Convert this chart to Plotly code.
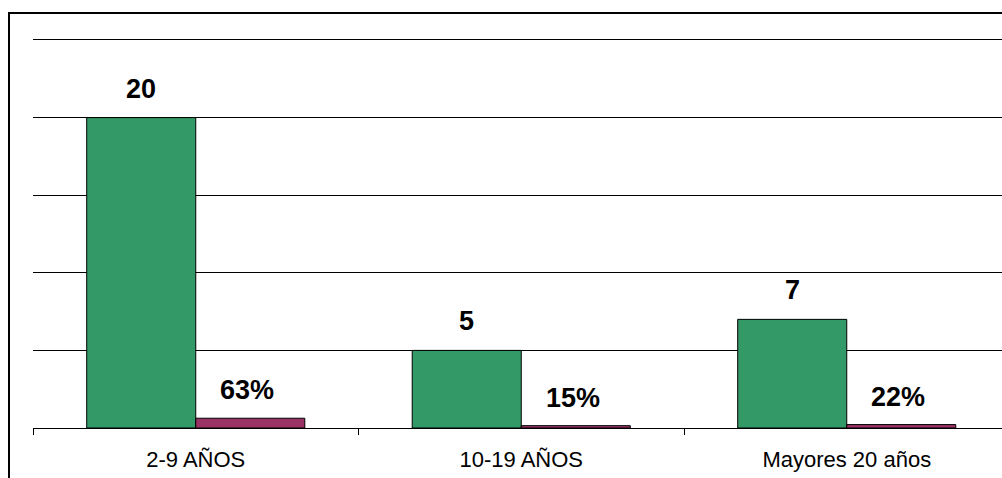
import plotly.graph_objects as go

# Age groups and values
categories = ["2-9 AÑOS", "10-19 AÑOS", "Mayores 20 años"]
counts = [20, 5, 7]
shares = [0.63, 0.15, 0.22]

GREEN = "#339966"
PLUM = "#993366"
FONT = "Liberation Sans, Arial, sans-serif"

W, H = 1002, 478
ML, MR, MT, MB = 33, 0, 40, 50
plot_w = W - ML - MR
plot_h = H - MT - MB
unit_px = 325.5  # width of one category band in pixels
Y_MAX = 25

fig = go.Figure()
fig.add_trace(go.Bar(x=categories, y=counts, marker=dict(color=GREEN, line=dict(color="black", width=1)),
                     showlegend=False, hoverinfo="skip"))
fig.add_trace(go.Bar(x=categories, y=shares, marker=dict(color=PLUM, line=dict(color="black", width=1)),
                     showlegend=False, hoverinfo="skip"))

bar_px = unit_px * 0.335
label_font = dict(family=FONT, size=27, color="black", weight="bold")
annotations = []
for cat, c, s in zip(categories, counts, shares):
    annotations.append(dict(x=cat, y=c, xref="x", yref="y", text=f"{c}", showarrow=False,
                            xshift=-bar_px / 2, yshift=29, yanchor="middle", font=label_font))
    annotations.append(dict(x=cat, y=s, xref="x", yref="y", text=f"{round(s * 100)}%", showarrow=False,
                            xshift=bar_px / 2 - 3, yshift=28, yanchor="middle", font=label_font))

fig.update_layout(
    width=W, height=H, autosize=False,
    margin=dict(l=ML, r=MR, t=MT, b=MB, pad=0),
    paper_bgcolor="white", plot_bgcolor="white",
    barmode="group", bargap=0.33, bargroupgap=0,
    font=dict(family=FONT, color="black"),
    annotations=annotations,
    xaxis=dict(
        type="category",
        range=[-0.5, -0.5 + plot_w / unit_px],
        showgrid=False, showline=True, linecolor="black", linewidth=1,
        ticks="outside", tickson="boundaries", ticklen=6, tickcolor="black", tickwidth=1,
        tickfont=dict(family=FONT, size=22, color="black"),
        ticklabelstandoff=12,
    ),
    yaxis=dict(
        range=[0, Y_MAX], dtick=5, showgrid=True, gridcolor="black", gridwidth=1,
        zeroline=False, showline=False, showticklabels=False, ticks="",
    ),
    shapes=[
        # top gridline at the axis maximum (nudged half a pixel so it renders crisp)
        dict(type="line", xref="paper", yref="paper", x0=0, x1=1,
             y0=1 + 0.5 / plot_h, y1=1 + 0.5 / plot_h,
             line=dict(color="black", width=1), layer="above"),
        # outer chart frame
        dict(type="rect", xref="paper", yref="paper",
             x0=(9 - ML) / plot_w, x1=1.1,
             y0=-0.3, y1=(H - MB - 13) / plot_h,
             line=dict(color="black", width=2), fillcolor="rgba(0,0,0,0)", layer="above"),
    ],
)

fig.write_html("out.html")
